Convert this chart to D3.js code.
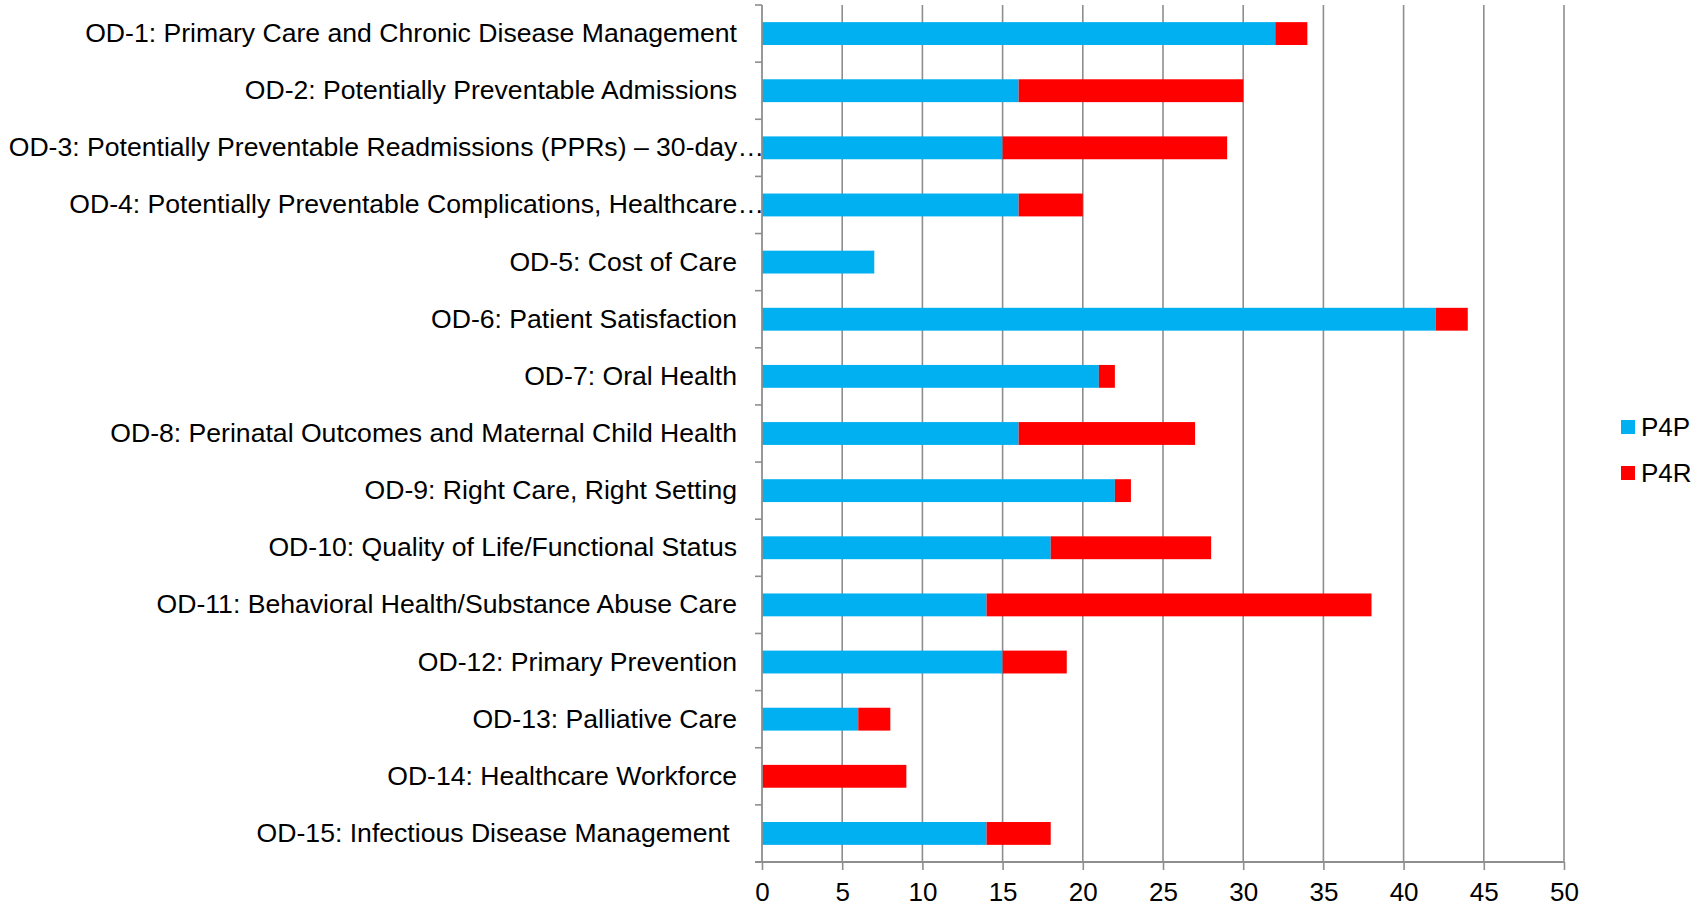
<!DOCTYPE html>
<html>
<head>
    <meta charset="utf-8">
    <script src="https://cdn.jsdelivr.net/npm/d3@7"></script>
    <style>
        body { margin: 0; background: #fff; }
        svg { display: block; font-family: "Liberation Sans", Arial, sans-serif; }
        .ylab text { white-space: pre; }
    </style>
</head>
<body>
<svg id="svg" width="1705" height="907"></svg>
<script>
    var categories = [
        "OD-1: Primary Care and Chronic Disease Management",
        "OD-2: Potentially Preventable Admissions",
        "OD-3: Potentially Preventable Readmissions (PPRs) – 30-day…",
        "OD-4: Potentially Preventable Complications, Healthcare…",
        "OD-5: Cost of Care",
        "OD-6: Patient Satisfaction",
        "OD-7: Oral Health",
        "OD-8: Perinatal Outcomes and Maternal Child Health",
        "OD-9: Right Care, Right Setting",
        "OD-10: Quality of Life/Functional Status",
        "OD-11: Behavioral Health/Substance Abuse Care",
        "OD-12: Primary Prevention",
        "OD-13: Palliative Care",
        "OD-14: Healthcare Workforce",
        "OD-15: Infectious Disease Management "
    ];
    var p4p = [32, 16, 15, 16, 7, 42, 21, 16, 22, 18, 14, 15, 6, 0, 14];
    var p4r = [2, 14, 14, 4, 0, 2, 1, 11, 1, 10, 24, 4, 2, 9, 4];
    var xTicks = [0, 5, 10, 15, 20, 25, 30, 35, 40, 45, 50];
    var seriesNames = ["P4P", "P4R"];
    var colors = ["#00B0F0", "#FF0000"];
    // labels that Excel cut short run up to the axis
    var truncated = [2, 3];

    var svg = d3.select("#svg");
    var margin = { left: 762, top: 5 };
    var width = 802, height = 857;

    var g = svg.append("g").attr("transform", "translate(" + margin.left + "," + margin.top + ")");

    var x = d3.scaleLinear().domain([0, 50]).range([0, width]);
    var y = d3.scaleBand().domain(categories).range([0, height]).paddingInner(0.6).paddingOuter(0.3);

    // gridlines
    g.selectAll(".grid")
        .data(xTicks.slice(1))
        .enter().append("line")
        .attr("class", "grid")
        .attr("x1", function (d) { return x(d); })
        .attr("x2", function (d) { return x(d); })
        .attr("y1", 0)
        .attr("y2", height)
        .style("stroke", "#8e8e8e")
        .style("stroke-width", 1.6);

    // stacked bars
    var rows = categories.map(function (c, i) { return { cat: c, P4P: p4p[i], P4R: p4r[i] }; });
    var stacked = d3.stack().keys(seriesNames)(rows);

    g.selectAll(".series")
        .data(stacked)
        .enter().append("g")
        .attr("class", "series")
        .style("fill", function (d, i) { return colors[i]; })
        .selectAll("rect")
        .data(function (d) { return d.filter(function (p) { return p[1] > p[0]; }); })
        .enter().append("rect")
        .attr("x", function (d) { return x(d[0]); })
        .attr("width", function (d) { return x(d[1]) - x(d[0]); })
        .attr("y", function (d) { return y(d.data.cat); })
        .attr("height", y.bandwidth());

    // bottom axis
    var xAxis = d3.axisBottom(x).tickValues(xTicks).tickSizeInner(8).tickSizeOuter(0).tickPadding(13);
    var xg = g.append("g").attr("transform", "translate(0," + height + ")").call(xAxis);
    xg.select(".domain").remove();
    xg.selectAll(".tick line").style("stroke", "#8e8e8e").style("stroke-width", 1.6);
    xg.selectAll(".tick text").style("font-size", "26px").style("fill", "#000")
        .style("font-family", "'Liberation Sans', Arial, sans-serif");

    // axis lines
    g.append("line").attr("x1", -7).attr("x2", x(50)).attr("y1", height).attr("y2", height)
        .style("stroke", "#8e8e8e").style("stroke-width", 1.8);
    g.append("line").attr("x1", 0).attr("x2", 0).attr("y1", 0).attr("y2", height)
        .style("stroke", "#8e8e8e").style("stroke-width", 1.8);

    // category boundary ticks
    var bounds = categories.map(function (c) { return y(c) - y.step() * 0.3; });
    bounds.push(height);
    g.selectAll(".btick")
        .data(bounds)
        .enter().append("line")
        .attr("class", "btick")
        .attr("x1", -7).attr("x2", 0)
        .attr("y1", function (d) { return d; })
        .attr("y2", function (d) { return d; })
        .style("stroke", "#8e8e8e").style("stroke-width", 1.6);

    // category labels
    var yAxis = d3.axisLeft(y).tickSize(0).tickPadding(25);
    var yg = g.append("g").attr("class", "ylab").call(yAxis);
    yg.select(".domain").remove();
    yg.selectAll(".tick text")
        .style("font-size", "26.6px").style("fill", "#000")
        .style("font-family", "'Liberation Sans', Arial, sans-serif")
        .attr("x", function (d, i) { return truncated.indexOf(i) >= 0 ? 2 : -25; });

    // legend
    var legend = svg.append("g").attr("transform", "translate(1621,420)")
        .selectAll("g")
        .data(seriesNames)
        .enter().append("g")
        .attr("transform", function (d, i) { return "translate(0," + i * 46 + ")"; });
    legend.append("rect").attr("width", 14).attr("height", 14)
        .style("fill", function (d, i) { return colors[i]; });
    legend.append("text").attr("x", 20).attr("y", 7).attr("dy", "0.35em")
        .style("font-size", "26px").text(function (d) { return d; });
</script>
</body>
</html>
